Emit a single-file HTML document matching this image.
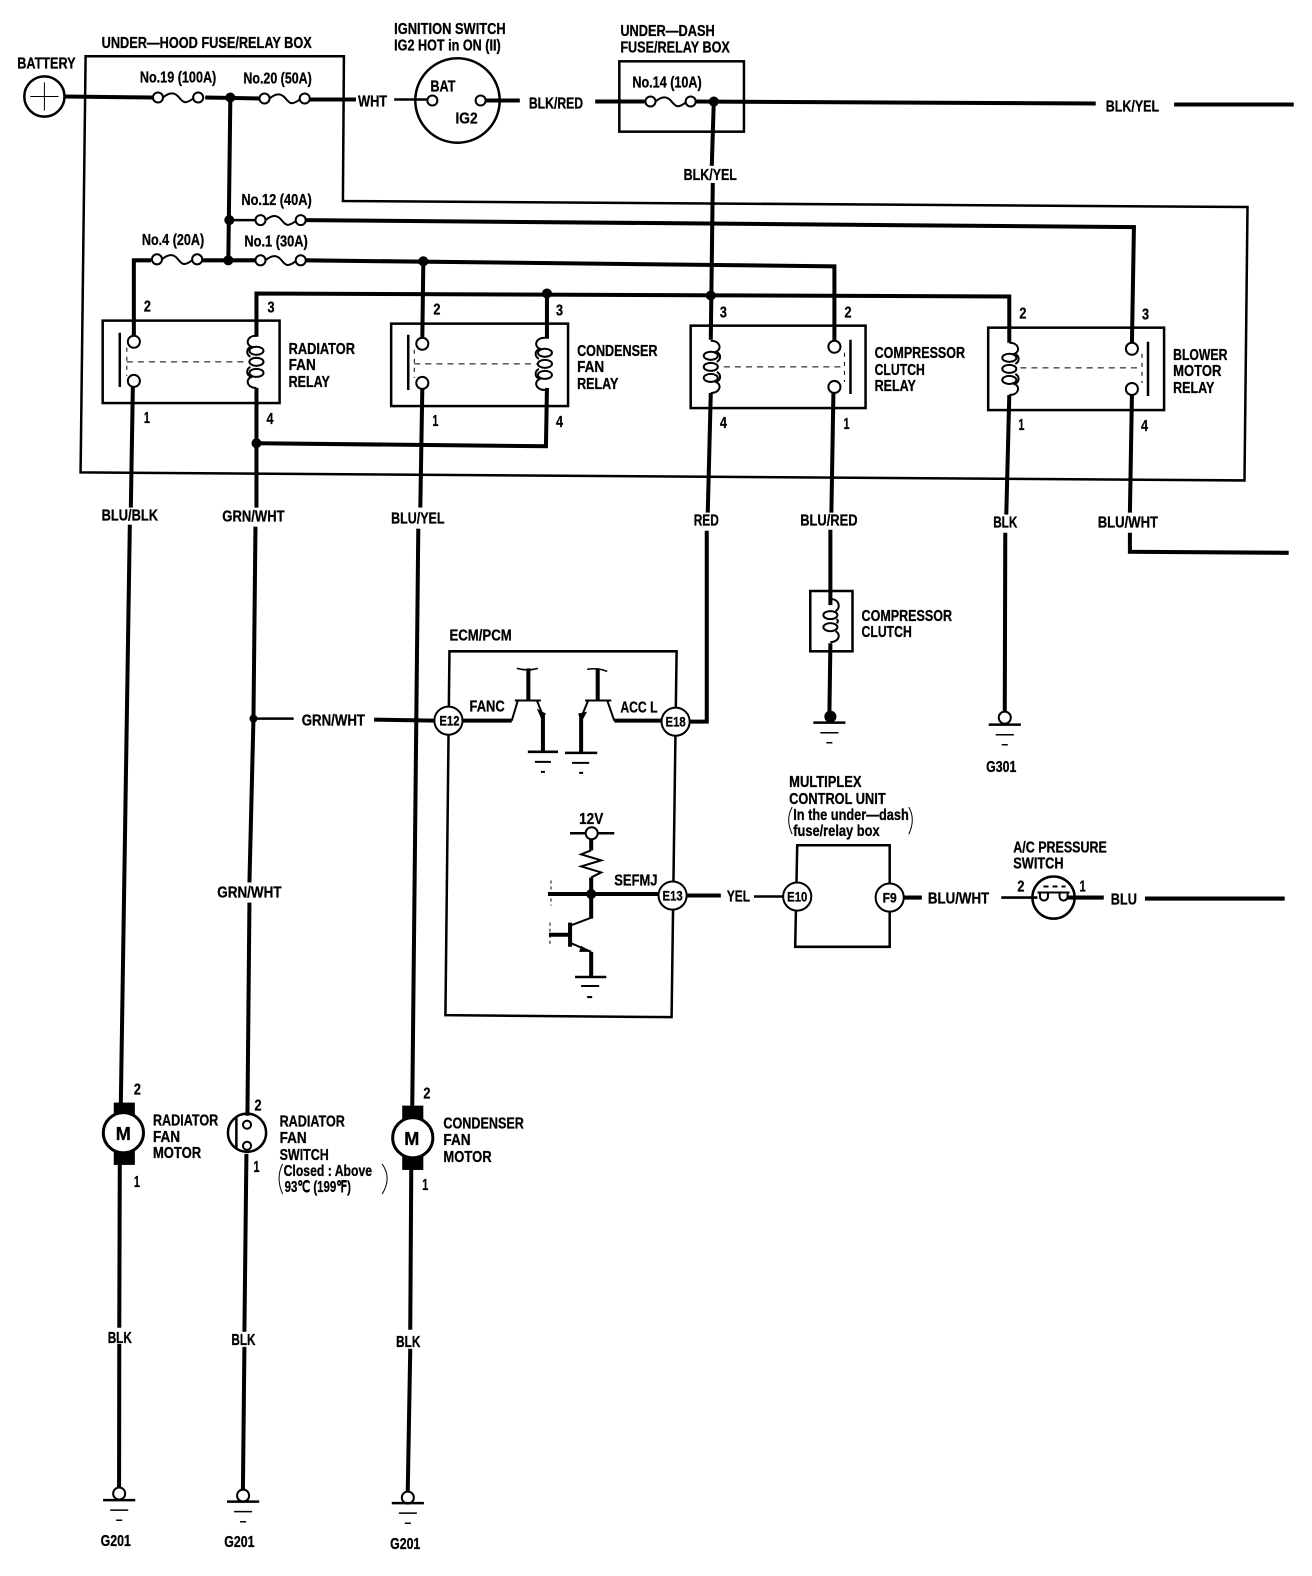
<!DOCTYPE html>
<html><head><meta charset="utf-8"><style>
html,body{margin:0;padding:0;background:#fff}
svg{display:block}
text{font-family:"Liberation Sans",sans-serif;font-weight:bold;font-size:16px;fill:#000;stroke:#000;stroke-width:.3}
.n{font-size:15.5px}
.t{fill:none;stroke:#000;stroke-width:2.5}
.w{fill:none;stroke:#000;stroke-width:4}
.f{fill:none;stroke:#000;stroke-width:2}
.h{fill:none;stroke:#000;stroke-width:1.5}
.c{fill:#fff;stroke:#000;stroke-width:2}
.j{fill:#000}
</style></head><body>
<svg width="1312" height="1576" viewBox="0 0 1305 1568" xmlns="http://www.w3.org/2000/svg">
<defs>
<g id="fuse"><path class="f" d="M5 0C12 -6 17 -5 21 0S27 7 35 1"/><circle class="c" cx="0" cy="0" r="5"/><circle class="c" cx="40" cy="0" r="5"/></g>
<g id="coil"><path class="f" d="M0 -26C10 -26 11 -17 5 -15C11 -13 10 -7 6 -5M6 5C10 7 11 13 5 15C11 17 10 26 0 26"/><ellipse class="f" cx="0" cy="-11" rx="7" ry="4"/><ellipse class="f" cx="0" cy="0" rx="7" ry="4"/><ellipse class="f" cx="0" cy="11" rx="7" ry="4"/></g>
<g id="coil2"><path class="f" d="M0 -22C10 -22 10 -12 5 -10M5 10C10 12 10 20 0 21M6 -2C8 -1 8 1 6 2"/><ellipse class="f" cx="0" cy="-6" rx="7" ry="4"/><ellipse class="f" cx="0" cy="6" rx="7" ry="4"/></g>
<g id="gnd"><path class="t" d="M-16 0H16"/><path class="h" d="M-9 10H9M-3 20H3"/></g>
</defs>

<!-- enclosures -->
<path class="t" d="M85 56H342L341 200L1241 206L1238 478L80 470Z"/>
<rect class="t" x="616" y="61" width="124" height="70"/>
<path class="t" d="M447 648H673L668 1012L443 1010Z"/>
<path class="t" d="M793 841H885V942H791Z"/>

<!-- top wires -->
<path class="w" d="M63 96L152 97M204 97L258 98M306 99L354 99M483 100H517M592 101H641M692 101L1090 103M1168 104H1287"/>
<path class="t" d="M392 99H425"/>
<circle class="t" cx="44" cy="96" r="20"/>
<path d="M30 96H58M44 82V110" stroke="#000" stroke-width="1" fill="none"/>
<circle class="t" cx="455" cy="100" r="42"/>
<circle class="c" cx="430" cy="100" r="5"/><circle class="c" cx="478" cy="100" r="5"/>
<use href="#fuse" x="157" y="97"/><use href="#fuse" x="263" y="98"/>
<use href="#fuse" x="647" y="101"/>
<path class="w" d="M229 97L227 259M710 101L708 165M709 182L707 338"/>
<circle class="j" cx="229" cy="97" r="5"/><circle class="j" cx="710" cy="101" r="5"/>
<circle class="j" cx="228" cy="219" r="5"/><circle class="j" cx="227" cy="259" r="5"/>
<path class="t" d="M228 219H254"/>
<use href="#fuse" x="259" y="219"/>
<path class="w" d="M303 219L1128 226L1126 342"/>
<path class="w" d="M133 334V259H150M201 259H254M303 259L830 265V340"/>
<use href="#fuse" x="156" y="258"/><use href="#fuse" x="259" y="259"/>
<circle class="j" cx="421" cy="260" r="5"/>
<path class="w" d="M421 260L420 337"/>
<path class="w" d="M255 335V292L1004 295V341M544 292V337"/>
<circle class="j" cx="544" cy="292" r="5"/><circle class="j" cx="707" cy="294" r="5"/>

<!-- relays -->
<rect class="t" x="102" y="319" width="176" height="82"/>
<rect class="t" x="389" y="322" width="176" height="82"/>
<rect class="t" x="687" y="324" width="174" height="82"/>
<rect class="t" x="983" y="326" width="175" height="82"/>
<path d="M126 360H248M412 362H534M720 365H840M1015 366H1136" stroke="#000" stroke-width="1" stroke-dasharray="6 5" fill="none"/>
<path d="M126 346V374M412 348V376M840 351V380M1136 352V381" stroke="#000" stroke-width="1" stroke-dasharray="4 5" fill="none"/>
<path class="t" d="M119 331V385M406 333V388M846 338V392M1142 340V394"/>
<use href="#coil" transform="translate(255 360) scale(-1 1)"/><use href="#coil" transform="translate(542 362) scale(-1 1)"/>
<use href="#coil" x="707" y="365"/><use href="#coil" x="1004" y="367"/>
<circle class="c" cx="133" cy="340" r="6"/><circle class="c" cx="133" cy="379" r="6"/>
<circle class="c" cx="420" cy="342" r="6"/><circle class="c" cx="420" cy="381" r="6"/>
<circle class="c" cx="830" cy="345" r="6"/><circle class="c" cx="830" cy="385" r="6"/>
<circle class="c" cx="1126" cy="347" r="6"/><circle class="c" cx="1126" cy="387" r="6"/>

<!-- long verticals -->
<path class="w" d="M132 385L130 505M129 522L120 1100M119 1158L118.5 1321M118.5 1337L118.3 1480"/>
<path class="w" d="M255 386V505M254 524L252 715L248 878M248 898L246 1110M245 1148L243 1325M243 1340L241.5 1482"/>
<path class="w" d="M420 387L418 505M416 526L410 1100M409 1163L408 1323M408 1342L405.5 1484"/>
<path class="w" d="M255 441L543 444L544 386"/>
<circle class="j" cx="255" cy="441" r="5"/>
<path class="w" d="M707 391L704 510M703 528V718H686"/>
<path class="w" d="M829 391L827 510M826 527V602M826 640L825 712"/>
<path class="w" d="M1004 393L1001 512M1000 530L999.5 708"/>
<path class="w" d="M1126 393L1124 510M1124 530V549L1282 550"/>

<!-- compressor clutch -->
<rect class="t" x="806" y="588" width="42" height="60"/>
<use href="#coil2" x="826" y="618"/>
<circle class="j" cx="826" cy="713" r="6"/>
<use href="#gnd" x="825" y="719"/>
<!-- G301 -->
<circle class="c" cx="999.5" cy="714" r="6"/>
<use href="#gnd" x="999.5" y="721"/>

<!-- ECM connections -->
<circle class="j" cx="252" cy="715" r="4"/>
<path class="t" d="M252 715H292"/>
<path class="w" d="M372 716L432 717M460 717H509"/>
<circle class="c" cx="446" cy="717" r="14"/>
<circle class="c" cx="672" cy="718" r="14"/>
<circle class="c" cx="669" cy="891" r="14"/>

<!-- transistors -->
<path class="w" d="M525.5 665V697M540 712V748M594.5 665V697M578 714V750"/>
<path class="h" d="M514 665Q525 668 535 665M584 666Q594 664 604 668"/>
<path class="f" d="M512 697H538M515 697L509 717M534 697L540 712M582 697H608M604 697L611 717M585 697L578 714"/>
<path class="t" d="M525 748H555M562 749H594"/>
<path class="w" d="M611 717H658"/>
<path class="f" d="M532 758H548M538 768H542M569 759H586M576 769H580"/>
<path class="j" d="M534 705L543 710L539 717Z M578 719L575 710L584 708Z"/>

<!-- SEFMJ -->
<circle class="c" cx="588.5" cy="829" r="6"/>
<path class="t" d="M567 829H582M594 829H611"/>
<path class="w" d="M588 835V846M588 873V914M545 889.5H655"/>
<path class="f" d="M588 846L578 850L598 856L578 862L598 868L588 873"/>
<circle class="j" cx="588" cy="889.5" r="5"/>
<path class="f" d="M588 913L567 921M567 938L588 947"/>
<path class="j" d="M588 947L578 941L576 947Z"/>
<path class="w" d="M567 918V942M546 930H567M588 947V972"/>
<path class="t" d="M572 972H603"/>
<path class="f" d="M578 981H596M584 992H589"/>
<path d="M548 876V901M547 918V942" stroke="#000" stroke-width="1" stroke-dasharray="3 3" fill="none"/>

<!-- multiplex + switch -->
<path class="w" d="M683 891H717"/>
<path class="t" d="M750 892H780"/>
<circle class="c" cx="793" cy="892" r="14"/>
<circle class="c" cx="885" cy="893" r="14"/>
<path class="w" d="M899 893H917M1139 894H1278"/>
<path class="t" d="M996 893H1032"/>
<circle class="t" cx="1048" cy="893" r="21"/>
<path class="f" d="M1032 888H1064"/>
<path class="f" d="M1034.5 888V892A4 4 0 0 0 1042.5 892V888M1054 888V892A4 4 0 0 0 1062 892V888"/>
<path class="w" d="M1062 893H1098"/>
<path d="M1038 882H1060" stroke="#000" stroke-width="2" stroke-dasharray="5 4"/>

<!-- motors -->
<rect x="113" y="1097" width="21" height="14" class="j"/><rect x="113" y="1145" width="21" height="14" class="j"/>
<circle class="c" cx="122.6" cy="1127" r="20" style="stroke-width:3"/>
<rect x="400" y="1100" width="21" height="14" class="j"/><rect x="400" y="1150" width="21" height="14" class="j"/>
<circle class="c" cx="410.5" cy="1132" r="20" style="stroke-width:3"/>
<path class="w" d="M246 1105V1110"/>
<circle class="t" cx="245.6" cy="1127" r="19"/>
<path class="t" d="M235 1112V1143"/>
<circle class="c" cx="245.6" cy="1119" r="4"/><circle class="c" cx="245.6" cy="1140" r="4"/>

<!-- grounds -->
<circle class="c" cx="118.4" cy="1486" r="6"/><use href="#gnd" x="118.4" y="1492.5"/>
<circle class="c" cx="241.7" cy="1488" r="6"/><use href="#gnd" x="241.7" y="1494"/>
<circle class="c" cx="405.6" cy="1490" r="6"/><use href="#gnd" x="405.6" y="1495.5"/>

<!-- brackets -->
<path class="h" style="stroke-width:1" d="M788 803Q781 815 788 830M904 803Q911 815 904 830M281 1158Q274 1172 281 1188M380 1158Q390 1172 380 1188"/>

<!-- text -->
<text x="17" y="68" textLength="58" lengthAdjust="spacingAndGlyphs">BATTERY</text>
<text x="101" y="48" textLength="209" lengthAdjust="spacingAndGlyphs">UNDER—HOOD FUSE/RELAY BOX</text>
<text x="392" y="34" textLength="111" lengthAdjust="spacingAndGlyphs">IGNITION SWITCH</text>
<text x="392" y="50" textLength="106" lengthAdjust="spacingAndGlyphs">IG2 HOT in ON (II)</text>
<text x="617" y="36" textLength="94" lengthAdjust="spacingAndGlyphs">UNDER—DASH</text>
<text x="617" y="52" textLength="109" lengthAdjust="spacingAndGlyphs">FUSE/RELAY BOX</text>
<text x="139" y="82" textLength="76" lengthAdjust="spacingAndGlyphs">No.19 (100A)</text>
<text x="242" y="83" textLength="68" lengthAdjust="spacingAndGlyphs">No.20 (50A)</text>
<text x="356" y="106" textLength="29" lengthAdjust="spacingAndGlyphs">WHT</text>
<text x="428" y="91" textLength="25" lengthAdjust="spacingAndGlyphs">BAT</text>
<text x="453" y="123" textLength="22" lengthAdjust="spacingAndGlyphs">IG2</text>
<text x="526" y="108" textLength="54" lengthAdjust="spacingAndGlyphs">BLK/RED</text>
<text x="629" y="87" textLength="69" lengthAdjust="spacingAndGlyphs">No.14 (10A)</text>
<text x="1100" y="111" textLength="53" lengthAdjust="spacingAndGlyphs">BLK/YEL</text>
<text x="680" y="179" textLength="53" lengthAdjust="spacingAndGlyphs">BLK/YEL</text>
<text x="240" y="204" textLength="70" lengthAdjust="spacingAndGlyphs">No.12 (40A)</text>
<text x="141" y="244" textLength="62" lengthAdjust="spacingAndGlyphs">No.4 (20A)</text>
<text x="243" y="245" textLength="63" lengthAdjust="spacingAndGlyphs">No.1 (30A)</text>
<text class="n" textLength="7" lengthAdjust="spacingAndGlyphs" x="143" y="310">2</text><text class="n" textLength="7" lengthAdjust="spacingAndGlyphs" x="266" y="311">3</text><text class="n" textLength="7" lengthAdjust="spacingAndGlyphs" x="431" y="313">2</text><text class="n" textLength="7" lengthAdjust="spacingAndGlyphs" x="553" y="314">3</text>
<text class="n" textLength="7" lengthAdjust="spacingAndGlyphs" x="716" y="316">3</text><text class="n" textLength="7" lengthAdjust="spacingAndGlyphs" x="840" y="316">2</text><text class="n" textLength="7" lengthAdjust="spacingAndGlyphs" x="1014" y="317">2</text><text class="n" textLength="7" lengthAdjust="spacingAndGlyphs" x="1136" y="318">3</text>
<text class="n" textLength="6" lengthAdjust="spacingAndGlyphs" x="143" y="421">1</text><text class="n" textLength="7" lengthAdjust="spacingAndGlyphs" x="265" y="422">4</text><text class="n" textLength="6" lengthAdjust="spacingAndGlyphs" x="430" y="424">1</text><text class="n" textLength="7" lengthAdjust="spacingAndGlyphs" x="553" y="425">4</text>
<text class="n" textLength="7" lengthAdjust="spacingAndGlyphs" x="716" y="426">4</text><text class="n" textLength="6" lengthAdjust="spacingAndGlyphs" x="839" y="427">1</text><text class="n" textLength="6" lengthAdjust="spacingAndGlyphs" x="1013" y="428">1</text><text class="n" textLength="7" lengthAdjust="spacingAndGlyphs" x="1135" y="429">4</text>
<text class="n" textLength="7" lengthAdjust="spacingAndGlyphs" x="1012" y="887">2</text><text class="n" textLength="6" lengthAdjust="spacingAndGlyphs" x="1074" y="887">1</text>
<text class="n" textLength="7" lengthAdjust="spacingAndGlyphs" x="133" y="1089">2</text><text class="n" textLength="6" lengthAdjust="spacingAndGlyphs" x="133" y="1181">1</text>
<text class="n" textLength="7" lengthAdjust="spacingAndGlyphs" x="253" y="1105">2</text><text class="n" textLength="6" lengthAdjust="spacingAndGlyphs" x="252" y="1166">1</text>
<text class="n" textLength="7" lengthAdjust="spacingAndGlyphs" x="421" y="1093">2</text><text class="n" textLength="6" lengthAdjust="spacingAndGlyphs" x="420" y="1184">1</text>
<text x="287" y="352" textLength="66" lengthAdjust="spacingAndGlyphs">RADIATOR</text>
<text x="287" y="368" textLength="27" lengthAdjust="spacingAndGlyphs">FAN</text>
<text x="287" y="385" textLength="41" lengthAdjust="spacingAndGlyphs">RELAY</text>
<text x="574" y="354" textLength="80" lengthAdjust="spacingAndGlyphs">CONDENSER</text>
<text x="574" y="370" textLength="27" lengthAdjust="spacingAndGlyphs">FAN</text>
<text x="574" y="387" textLength="41" lengthAdjust="spacingAndGlyphs">RELAY</text>
<text x="870" y="356" textLength="90" lengthAdjust="spacingAndGlyphs">COMPRESSOR</text>
<text x="870" y="373" textLength="50" lengthAdjust="spacingAndGlyphs">CLUTCH</text>
<text x="870" y="389" textLength="41" lengthAdjust="spacingAndGlyphs">RELAY</text>
<text x="1167" y="358" textLength="54" lengthAdjust="spacingAndGlyphs">BLOWER</text>
<text x="1167" y="374" textLength="48" lengthAdjust="spacingAndGlyphs">MOTOR</text>
<text x="1167" y="391" textLength="41" lengthAdjust="spacingAndGlyphs">RELAY</text>
<text x="101" y="518" textLength="56" lengthAdjust="spacingAndGlyphs">BLU/BLK</text>
<text x="221" y="519" textLength="62" lengthAdjust="spacingAndGlyphs">GRN/WHT</text>
<text x="389" y="521" textLength="53" lengthAdjust="spacingAndGlyphs">BLU/YEL</text>
<text x="690" y="523" textLength="25" lengthAdjust="spacingAndGlyphs">RED</text>
<text x="796" y="523" textLength="57" lengthAdjust="spacingAndGlyphs">BLU/RED</text>
<text x="988" y="525" textLength="24" lengthAdjust="spacingAndGlyphs">BLK</text>
<text x="1092" y="525" textLength="60" lengthAdjust="spacingAndGlyphs">BLU/WHT</text>
<text x="857" y="618" textLength="90" lengthAdjust="spacingAndGlyphs">COMPRESSOR</text>
<text x="857" y="634" textLength="50" lengthAdjust="spacingAndGlyphs">CLUTCH</text>
<text x="447" y="637" textLength="62" lengthAdjust="spacingAndGlyphs">ECM/PCM</text>
<text x="300" y="722" textLength="63" lengthAdjust="spacingAndGlyphs">GRN/WHT</text>
<text x="467" y="708" textLength="35" lengthAdjust="spacingAndGlyphs">FANC</text>
<text x="617" y="709" textLength="37" lengthAdjust="spacingAndGlyphs">ACC L</text>
<text x="437" y="722" textLength="20" lengthAdjust="spacingAndGlyphs" style="font-size:14px">E12</text>
<text x="662" y="723" textLength="20" lengthAdjust="spacingAndGlyphs" style="font-size:14px">E18</text>
<text x="659" y="896" textLength="20" lengthAdjust="spacingAndGlyphs" style="font-size:14px">E13</text>
<text x="783" y="897" textLength="20" lengthAdjust="spacingAndGlyphs" style="font-size:14px">E10</text>
<text x="878" y="898" textLength="14" lengthAdjust="spacingAndGlyphs" style="font-size:14px">F9</text>
<text x="981" y="768" textLength="30" lengthAdjust="spacingAndGlyphs">G301</text>
<text x="785" y="783" textLength="72" lengthAdjust="spacingAndGlyphs">MULTIPLEX</text>
<text x="785" y="800" textLength="96" lengthAdjust="spacingAndGlyphs">CONTROL UNIT</text>
<text x="789" y="816" textLength="115" lengthAdjust="spacingAndGlyphs">In the under—dash</text>
<text x="789" y="832" textLength="86" lengthAdjust="spacingAndGlyphs">fuse/relay box</text>
<text x="1008" y="848" textLength="93" lengthAdjust="spacingAndGlyphs">A/C PRESSURE</text>
<text x="1008" y="864" textLength="50" lengthAdjust="spacingAndGlyphs">SWITCH</text>
<text x="576" y="820" textLength="24" lengthAdjust="spacingAndGlyphs">12V</text>
<text x="611" y="881" textLength="43" lengthAdjust="spacingAndGlyphs">SEFMJ</text>
<text x="723" y="897" textLength="23" lengthAdjust="spacingAndGlyphs">YEL</text>
<text x="923" y="899" textLength="61" lengthAdjust="spacingAndGlyphs">BLU/WHT</text>
<text x="1105" y="900" textLength="26" lengthAdjust="spacingAndGlyphs">BLU</text>
<text x="216" y="893" textLength="64" lengthAdjust="spacingAndGlyphs">GRN/WHT</text>
<text x="115" y="1134" style="font-size:18px">M</text>
<text x="402" y="1139" style="font-size:18px">M</text>
<text x="152" y="1120" textLength="65" lengthAdjust="spacingAndGlyphs">RADIATOR</text>
<text x="152" y="1136" textLength="27" lengthAdjust="spacingAndGlyphs">FAN</text>
<text x="152" y="1152" textLength="48" lengthAdjust="spacingAndGlyphs">MOTOR</text>
<text x="278" y="1121" textLength="65" lengthAdjust="spacingAndGlyphs">RADIATOR</text>
<text x="278" y="1137" textLength="27" lengthAdjust="spacingAndGlyphs">FAN</text>
<text x="278" y="1154" textLength="49" lengthAdjust="spacingAndGlyphs">SWITCH</text>
<text x="282" y="1170" textLength="88" lengthAdjust="spacingAndGlyphs">Closed : Above</text>
<text x="283" y="1186" textLength="66" lengthAdjust="spacingAndGlyphs">93℃ (199℉)</text>
<text x="441" y="1123" textLength="80" lengthAdjust="spacingAndGlyphs">CONDENSER</text>
<text x="441" y="1139" textLength="27" lengthAdjust="spacingAndGlyphs">FAN</text>
<text x="441" y="1156" textLength="48" lengthAdjust="spacingAndGlyphs">MOTOR</text>
<text x="107" y="1336" textLength="24" lengthAdjust="spacingAndGlyphs">BLK</text>
<text x="230" y="1338" textLength="24" lengthAdjust="spacingAndGlyphs">BLK</text>
<text x="394" y="1340" textLength="24" lengthAdjust="spacingAndGlyphs">BLK</text>
<text x="100" y="1538" textLength="30" lengthAdjust="spacingAndGlyphs">G201</text>
<text x="223" y="1539" textLength="30" lengthAdjust="spacingAndGlyphs">G201</text>
<text x="388" y="1541" textLength="30" lengthAdjust="spacingAndGlyphs">G201</text>
</svg>
</body></html>
